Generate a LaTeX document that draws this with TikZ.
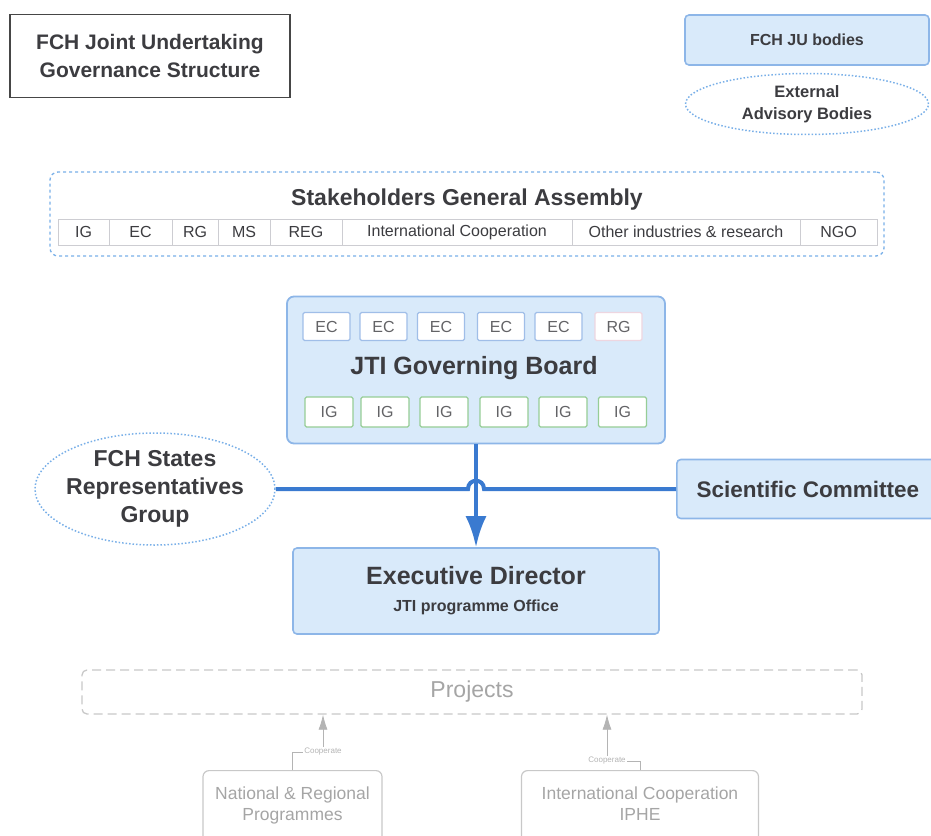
\documentclass[tikz,border=0pt]{standalone}
\usepackage{fontspec}
\setmainfont{Liberation Sans}
\usetikzlibrary{arrows.meta,positioning,shapes.geometric}
\definecolor{Ink}{RGB}{60,60,64}
\definecolor{TitleLine}{RGB}{70,70,70}
\definecolor{SoftBlue}{RGB}{217,234,250}
\definecolor{FrameBlue}{RGB}{141,182,232}
\definecolor{LineBlue}{RGB}{58,122,208}
\definecolor{DotBlue}{RGB}{120,175,232}
\definecolor{CellLine}{RGB}{205,205,210}
\definecolor{EcLine}{RGB}{160,190,232}
\definecolor{RgLine}{RGB}{238,214,224}
\definecolor{IgLine}{RGB}{150,205,150}
\definecolor{ProjLine}{RGB}{200,200,200}
\definecolor{ProjInk}{RGB}{165,165,165}
\definecolor{FaintInk}{RGB}{180,180,180}
\newcommand{\setfs}[2]{\fontsize{#1}{#2}\selectfont}
\tikzset{
  >=Latex,
  titlebox/.style={draw=TitleLine,line width=1.8pt,align=center,text=Ink,font=\bfseries\setfs{21}{28}},
  body/.style={draw=FrameBlue,line width=1.6pt,rounded corners=4pt,fill=SoftBlue,align=center,text=Ink,font=\bfseries},
  advisory/.style={ellipse,draw=DotBlue,line width=1.5pt,dash pattern=on 1.5pt off 2pt,fill=white,align=center,text=Ink,font=\bfseries,inner sep=-10pt},
  assembly/.style={draw=DotBlue,line width=1.3pt,dash pattern=on 3pt off 3pt,rounded corners=8pt},
  cell/.style={draw=CellLine,line width=.8pt,fill=white,minimum height=26,inner sep=0pt,text=Ink,font=\setfs{16}{18}},
  member/.style={draw=EcLine,line width=1.3pt,fill=white,rounded corners=1.5pt,minimum width=47,minimum height=28,inner sep=0pt,text=Ink!80,font=\setfs{16}{18}},
  link/.style={line width=4pt,draw=LineBlue},
  projbox/.style={draw=ProjLine,line width=1.3pt,dash pattern=on 9pt off 5pt,rounded corners=5pt,text=ProjInk,font=\setfs{23}{27}},
  progbox/.style={draw=ProjLine,line width=1.2pt,rounded corners=6pt,align=center,text=ProjInk,font=\setfs{17.5}{21},inner ysep=16pt,text depth=45pt},
  coopLbl/.style={text=FaintInk,font=\setfs{8}{9},inner sep=1pt},
  coopline/.style={draw=FaintInk,line width=.8pt},
  cooparrow/.style={draw=FaintInk,line width=.8pt,-{Latex[length=15pt,width=9pt]}}
}
\begin{document}
\begin{tikzpicture}[x=1pt,y=-1pt]
  \useasboundingbox (0,0) rectangle (931,835);
  \clip (0,0) rectangle (931,835);
  % header and legend
  \node[titlebox,minimum width=280,minimum height=83] (title) at (150,56) {FCH Joint Undertaking\\Governance Structure};
  \node[body,font=\bfseries\setfs{16}{20},minimum width=244,minimum height=50] (jub) at (807,40) {FCH JU bodies};
  \node[advisory,font=\bfseries\setfs{16.5}{22},minimum width=243,minimum height=61] (ext) at (807,104) {External\\Advisory Bodies};
  % stakeholders general assembly
  \node[assembly,minimum width=834,minimum height=84] (sga) at (467,214) {};
  \node[font=\bfseries\setfs{23}{27},text=Ink] (sgaTitle) at (467,200) {Stakeholders General Assembly};
  \foreach \a/\b/\txt [count=\i] in {58/109/IG,109/172/EC,172/218/RG,218/270/MS,270/342/REG,
    342/572/International Cooperation,572/800/Other industries \& research,800/877/NGO}{
    \node[cell,minimum width={\b-\a}] (sga\i) at ({(\a+\b)/2},232) {\txt};
  }
  % governing board
  \node[body,line width=1.8pt,rounded corners=7pt,minimum width=378,minimum height=147] (board) at (476,370) {};
  \node[font=\bfseries\setfs{25}{30},text=Ink] (boardTitle) at (474,368) {JTI Governing Board};
  \foreach \x/\txt/\col [count=\i] in {326.5/EC/EcLine,383.5/EC/EcLine,441/EC/EcLine,501/EC/EcLine,558.5/EC/EcLine,618.5/RG/RgLine}{
    \node[member,draw=\col] (top\i) at (\x,326.5) {\txt};
  }
  \foreach \x [count=\i] in {329,385,444,504,563,622.5}{
    \node[member,draw=IgLine,minimum width=48,minimum height=30] (ig\i) at (\x,412) {IG};
  }
  % side bodies and executive
  \node[advisory,font=\bfseries\setfs{23}{28},minimum width=240,minimum height=112] (frg) at (155,489) {FCH States\\Representatives\\Group};
  \node[body,anchor=west,font=\bfseries\setfs{22.5}{27},minimum width=262,minimum height=59] (sci) at (676,489) {Scientific Committee};
  \node[body,font=\bfseries\setfs{25}{27},minimum width=366,minimum height=86] (exec) at (476,591) {Executive Director\\{\setfs{16}{20}JTI programme Office}};
  \coordinate (hopA) at (468,489);
  \coordinate (hopB) at (484,489);
  \draw[link] (frg.east) -- (hopA) .. controls ([yshift=11pt]hopA) and ([yshift=11pt]hopB) .. (hopB) -- (sci.west);
  \draw[link,-{Latex[length=31pt,width=21pt]}] (board.south) -- (exec.north);
  % projects
  \node[projbox,minimum width=780,minimum height=44] (proj) at (472,692) {Projects};
  \node[progbox,anchor=north,minimum width=179] (natl) at (292.5,770) {National \& Regional\\Programmes};
  \node[progbox,anchor=north,minimum width=237] (iphe) at (640,770) {International Cooperation\\IPHE};
  \node[coopLbl] (coopA) at (323,752) {Cooperate};
  \node[coopLbl] (coopB) at (607,761) {Cooperate};
  \draw[coopline] (natl.north) |- (coopA.west);
  \draw[cooparrow] (coopA.north) -- (coopA.north |- proj.south);
  \draw[coopline] (iphe.north) |- (coopB.east);
  \draw[cooparrow] (coopB.north) -- (coopB.north |- proj.south);
\end{tikzpicture}
\end{document}
